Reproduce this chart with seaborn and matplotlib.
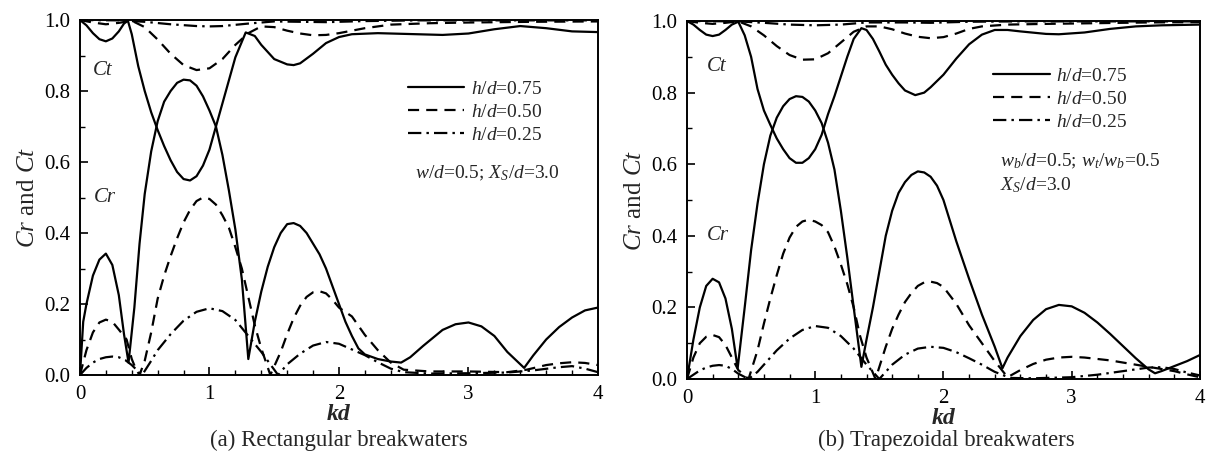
import matplotlib
matplotlib.use('Agg')
import matplotlib.pyplot as plt
import seaborn as sns
from matplotlib.lines import Line2D
from matplotlib.ticker import MultipleLocator

sns.set_style('ticks')
plt.rcParams['font.family'] = ['Liberation Serif', 'DejaVu Serif']
plt.rcParams['mathtext.fontset'] = 'custom'
plt.rcParams['mathtext.rm'] = 'Liberation Serif'
plt.rcParams['mathtext.it'] = 'Liberation Serif:italic'
plt.rcParams['mathtext.bf'] = 'Liberation Serif:bold'

# ---------------- (a) Rectangular breakwaters ----------------
a_cr75_kd = [0, 0.025, 0.05, 0.1, 0.15, 0.2, 0.25, 0.3, 0.34, 0.375, 0.42, 0.46, 0.5, 0.55, 0.6, 0.65, 0.7,
             0.75, 0.8, 0.85, 0.9, 0.95, 1.0, 1.05, 1.1, 1.15, 1.2, 1.25, 1.3, 1.35, 1.4, 1.45, 1.5, 1.55,
             1.6, 1.65, 1.7, 1.75, 1.8, 1.85, 1.9, 1.95, 2.0, 2.05, 2.1, 2.15, 2.2, 2.3, 2.4, 2.48, 2.55,
             2.65, 2.8, 2.9, 3.0, 3.1, 3.2, 3.3, 3.43, 3.5, 3.6, 3.7, 3.8, 3.9, 4.0]
a_cr75 = [0, 0.15, 0.2, 0.28, 0.325, 0.342, 0.31, 0.225, 0.115, 0.035, 0.19, 0.37, 0.51, 0.63, 0.715, 0.77,
          0.80, 0.823, 0.832, 0.83, 0.815, 0.785, 0.745, 0.70, 0.62, 0.52, 0.41, 0.27, 0.045, 0.15, 0.235,
          0.305, 0.36, 0.40, 0.425, 0.428, 0.42, 0.40, 0.37, 0.34, 0.30, 0.25, 0.20, 0.15, 0.11, 0.075,
          0.058, 0.045, 0.038, 0.035, 0.05, 0.082, 0.127, 0.143, 0.148, 0.137, 0.11, 0.065, 0.02, 0.055,
          0.10, 0.135, 0.162, 0.182, 0.19]

a_ct75_kd = [0, 0.05, 0.1, 0.15, 0.2, 0.25, 0.3, 0.34, 0.37, 0.4, 0.45, 0.5, 0.55, 0.6, 0.65, 0.7, 0.75,
             0.8, 0.85, 0.9, 0.95, 1.0, 1.05, 1.1, 1.15, 1.2, 1.28, 1.35, 1.4, 1.5, 1.6, 1.65, 1.7, 1.8,
             1.9, 2.0, 2.1, 2.3, 2.5, 2.8, 3.0, 3.2, 3.4, 3.6, 3.8, 4.0]
a_ct75 = [1.0, 0.985, 0.963, 0.946, 0.94, 0.948, 0.968, 0.99, 0.998, 0.96, 0.87, 0.8, 0.74, 0.69, 0.645,
          0.605, 0.572, 0.552, 0.548, 0.56, 0.59, 0.635, 0.70, 0.765, 0.83, 0.895, 0.965, 0.955, 0.93, 0.89,
          0.875, 0.873, 0.878, 0.905, 0.935, 0.952, 0.96, 0.963, 0.961, 0.958, 0.962, 0.974, 0.983, 0.977,
          0.968, 0.966]

a_cr50_kd = [0, 0.05, 0.1, 0.15, 0.2, 0.25, 0.3, 0.36, 0.4, 0.43, 0.46, 0.5, 0.55, 0.6, 0.65, 0.7, 0.75,
             0.8, 0.85, 0.9, 0.95, 1.0, 1.05, 1.1, 1.15, 1.2, 1.25, 1.3, 1.35, 1.4, 1.47, 1.55, 1.6, 1.65,
             1.7, 1.75, 1.8, 1.85, 1.9, 1.95, 2.0, 2.1, 2.2, 2.3, 2.4, 2.5, 2.7, 3.0, 3.3, 3.45, 3.6, 3.7,
             3.8, 3.9, 4.0]
a_cr50 = [0, 0.07, 0.12, 0.148, 0.156, 0.15, 0.128, 0.10, 0.045, 0.018, 0.0, 0.04, 0.12, 0.215, 0.28,
          0.335, 0.385, 0.43, 0.465, 0.49, 0.5, 0.496, 0.48, 0.45, 0.415, 0.36, 0.30, 0.22, 0.14, 0.075,
          0.0, 0.065, 0.115, 0.16, 0.195, 0.22, 0.233, 0.236, 0.23, 0.212, 0.19, 0.165, 0.113, 0.07, 0.035,
          0.015, 0.01, 0.01, 0.008, 0.015, 0.028, 0.033, 0.036, 0.034, 0.028]

a_ct50_kd = [0, 0.1, 0.2, 0.3, 0.4, 0.5, 0.6, 0.7, 0.8, 0.9, 1.0, 1.1, 1.2, 1.3, 1.4, 1.5, 1.6, 1.7, 1.8,
             1.9, 2.0, 2.2, 2.4, 2.7, 3.0, 3.5, 4.0]
a_ct50 = [1.0, 0.993, 0.988, 0.992, 0.998, 0.98, 0.945, 0.905, 0.873, 0.859, 0.864, 0.89, 0.93, 0.963,
          0.982, 0.98, 0.97, 0.962, 0.957, 0.958, 0.963, 0.977, 0.987, 0.991, 0.993, 0.995, 0.996]

a_cr25_kd = [0, 0.05, 0.1, 0.15, 0.2, 0.25, 0.3, 0.35, 0.4, 0.45, 0.48, 0.55, 0.6, 0.7, 0.8, 0.9, 1.0,
             1.1, 1.2, 1.3, 1.4, 1.45, 1.53, 1.6, 1.7, 1.8, 1.9, 2.0, 2.1, 2.2, 2.3, 2.4, 2.5, 2.7, 3.0,
             3.3, 3.5, 3.7, 3.8, 3.9, 4.0]
a_cr25 = [0, 0.02, 0.035, 0.045, 0.05, 0.052, 0.05, 0.042, 0.028, 0.01, 0.0, 0.04, 0.07, 0.115, 0.153,
          0.178, 0.188, 0.18, 0.155, 0.11, 0.065, 0.04, 0.0, 0.03, 0.06, 0.083, 0.093, 0.088, 0.072, 0.056,
          0.036, 0.018, 0.008, 0.004, 0.005, 0.007, 0.013, 0.022, 0.025, 0.018, 0.008]

a_ct25_kd = [0, 0.3, 0.5, 0.7, 0.9, 1.0, 1.1, 1.3, 1.5, 1.7, 1.9, 2.2, 2.6, 3.0, 4.0]
a_ct25 = [1.0, 0.999, 0.995, 0.988, 0.983, 0.982, 0.983, 0.99, 0.996, 0.995, 0.994, 0.997, 0.999, 0.999,
          0.999]

# ---------------- (b) Trapezoidal breakwaters ----------------
b_cr75_kd = [0, 0.05, 0.1, 0.15, 0.2, 0.25, 0.3, 0.35, 0.395, 0.45, 0.5, 0.55, 0.6, 0.65, 0.7, 0.75, 0.8,
             0.85, 0.9, 0.95, 1.0, 1.05, 1.1, 1.15, 1.2, 1.25, 1.3, 1.36, 1.4, 1.45, 1.5, 1.55, 1.6, 1.65,
             1.7, 1.75, 1.8, 1.85, 1.9, 1.95, 2.0, 2.1, 2.2, 2.3, 2.4, 2.46, 2.5, 2.6, 2.7, 2.8, 2.9, 3.0,
             3.1, 3.2, 3.3, 3.4, 3.5, 3.6, 3.65, 3.7, 3.8, 3.9, 4.0]
b_cr75 = [0, 0.11, 0.2, 0.26, 0.28, 0.27, 0.225, 0.14, 0.03, 0.2, 0.36, 0.49, 0.6, 0.68, 0.73, 0.762,
          0.782, 0.79, 0.788, 0.775, 0.75, 0.715, 0.66, 0.585, 0.47, 0.34, 0.2, 0.034, 0.11, 0.2, 0.3, 0.4,
          0.47, 0.52, 0.55, 0.57, 0.58, 0.577, 0.565, 0.54, 0.5, 0.385, 0.28, 0.18, 0.09, 0.03, 0.06, 0.12,
          0.165, 0.195, 0.207, 0.203, 0.185, 0.158, 0.126, 0.092, 0.058, 0.027, 0.016, 0.022, 0.036, 0.05,
          0.067]

b_ct75_kd = [0, 0.05, 0.1, 0.15, 0.2, 0.25, 0.3, 0.35, 0.4, 0.45, 0.5, 0.55, 0.6, 0.65, 0.7, 0.75, 0.8,
             0.85, 0.9, 0.95, 1.0, 1.05, 1.1, 1.15, 1.2, 1.25, 1.3, 1.36, 1.4, 1.45, 1.5, 1.55, 1.6, 1.65,
             1.7, 1.78, 1.85, 1.9, 2.0, 2.1, 2.2, 2.3, 2.4, 2.5, 2.6, 2.8, 2.9, 3.1, 3.3, 3.5, 3.7, 4.0]
b_ct75 = [1.0, 0.99, 0.975, 0.962, 0.958, 0.962, 0.975, 0.99, 0.998, 0.96, 0.9, 0.81, 0.75, 0.71, 0.672,
          0.642, 0.617, 0.604, 0.604, 0.617, 0.642, 0.682, 0.74, 0.79, 0.845, 0.9, 0.95, 0.98, 0.975, 0.95,
          0.915, 0.878, 0.85, 0.826, 0.806, 0.793, 0.8, 0.815, 0.85, 0.895, 0.935, 0.962, 0.975, 0.975,
          0.971, 0.964, 0.963, 0.968, 0.978, 0.985, 0.988, 0.99]

b_cr50_kd = [0, 0.05, 0.1, 0.15, 0.2, 0.25, 0.3, 0.35, 0.4, 0.48, 0.55, 0.6, 0.65, 0.7, 0.75, 0.8, 0.85,
             0.9, 0.95, 1.0, 1.05, 1.1, 1.15, 1.2, 1.25, 1.3, 1.35, 1.4, 1.47, 1.55, 1.6, 1.65, 1.7, 1.75,
             1.8, 1.85, 1.9, 1.95, 2.0, 2.1, 2.2, 2.3, 2.4, 2.5, 2.6, 2.7, 2.8, 2.9, 3.0, 3.1, 3.3, 3.5,
             3.7, 3.8, 3.9, 4.0]
b_cr50 = [0, 0.06, 0.1, 0.118, 0.123, 0.117, 0.095, 0.06, 0.025, 0.0, 0.08, 0.155, 0.225, 0.29, 0.35,
          0.395, 0.425, 0.44, 0.445, 0.44, 0.43, 0.41, 0.37, 0.32, 0.265, 0.2, 0.12, 0.06, 0.0, 0.09, 0.14,
          0.18, 0.215, 0.24, 0.26, 0.27, 0.272, 0.268, 0.257, 0.21, 0.15, 0.1, 0.05, 0.005, 0.025, 0.042,
          0.054, 0.06, 0.062, 0.06, 0.052, 0.04, 0.028, 0.022, 0.013, 0.005]

b_ct50_kd = [0, 0.1, 0.2, 0.3, 0.4, 0.5, 0.6, 0.7, 0.8, 0.9, 1.0, 1.1, 1.2, 1.3, 1.4, 1.5, 1.6, 1.7, 1.8,
             1.9, 2.0, 2.1, 2.2, 2.3, 2.5, 2.8, 3.2, 3.6, 4.0]
b_ct50 = [1.0, 0.995, 0.992, 0.995, 0.999, 0.985, 0.96, 0.93, 0.905, 0.892, 0.893, 0.91, 0.94, 0.97, 0.985,
          0.985, 0.977, 0.965, 0.956, 0.952, 0.955, 0.965, 0.978, 0.985, 0.99, 0.992, 0.994, 0.996, 0.997]

b_cr25_kd = [0, 0.05, 0.1, 0.15, 0.2, 0.25, 0.3, 0.35, 0.4, 0.48, 0.55, 0.6, 0.7, 0.8, 0.9, 1.0, 1.1, 1.2,
             1.3, 1.4, 1.5, 1.6, 1.7, 1.8, 1.9, 2.0, 2.1, 2.2, 2.3, 2.4, 2.52, 2.7, 3.0, 3.2, 3.4, 3.6, 3.7,
             3.8, 3.9, 4.0]
b_cr25 = [0, 0.012, 0.024, 0.032, 0.037, 0.039, 0.037, 0.028, 0.015, 0.0, 0.02, 0.04, 0.08, 0.113, 0.137,
          0.148, 0.143, 0.12, 0.085, 0.04, 0.0, 0.04, 0.068, 0.085, 0.09, 0.087, 0.075, 0.058, 0.04, 0.02,
          0.003, 0.002, 0.005, 0.012, 0.022, 0.032, 0.033, 0.028, 0.018, 0.01]

b_ct25_kd = [0, 0.4, 0.6, 0.8, 1.0, 1.2, 1.4, 1.7, 1.9, 2.2, 2.6, 4.0]
b_ct25 = [1.0, 0.999, 0.995, 0.99, 0.988, 0.99, 0.996, 0.996, 0.995, 0.998, 0.999, 0.999]

legend_labels = ['$h/d$=0.75', '$h/d$=0.50', '$h/d$=0.25']
x_ticks = [0, 1, 2, 3, 4]
y_ticks = [0.0, 0.2, 0.4, 0.6, 0.8, 1.0]

LS = {'0.75': '-', '0.50': (0, (5.0, 3.2)), '0.25': (0, (6.0, 2.3, 1.1, 2.3))}
LW = 1.6

fig = plt.figure(figsize=(12.08, 4.55), dpi=100)
axA = fig.add_axes([0.0662, 0.1758, 0.4288, 0.7802])
axB = fig.add_axes([0.5687, 0.1670, 0.4246, 0.7868])

def draw(ax, series):
    for kd, val, key in series:
        sns.lineplot(x=kd, y=val, ax=ax, color='black', linewidth=LW, linestyle=LS[key],
                     estimator=None, sort=False)

draw(axA, [(a_cr75_kd, a_cr75, '0.75'), (a_ct75_kd, a_ct75, '0.75'),
           (a_cr50_kd, a_cr50, '0.50'), (a_ct50_kd, a_ct50, '0.50'),
           (a_cr25_kd, a_cr25, '0.25'), (a_ct25_kd, a_ct25, '0.25')])
draw(axB, [(b_cr75_kd, b_cr75, '0.75'), (b_ct75_kd, b_ct75, '0.75'),
           (b_cr50_kd, b_cr50, '0.50'), (b_ct50_kd, b_ct50, '0.50'),
           (b_cr25_kd, b_cr25, '0.25'), (b_ct25_kd, b_ct25, '0.25')])

for ax in (axA, axB):
    ax.set_xlim(0, 4)
    ax.set_ylim(0, 1)
    ax.set_xticks(x_ticks)
    ax.set_xticklabels([str(t) for t in x_ticks])
    ax.set_yticks(y_ticks)
    ax.set_yticklabels(['%.1f' % t for t in y_ticks])
    ax.xaxis.set_minor_locator(MultipleLocator(0.2))
    ax.yaxis.set_minor_locator(MultipleLocator(0.1))
    ax.tick_params(which='both', direction='in', top=False, right=False, color='black')
    ax.tick_params(which='major', length=6, width=1.2, labelsize=15, pad=7, labelcolor='black')
    ax.tick_params(which='minor', length=3.5, width=1.0)
    for s in ax.spines.values():
        s.set_visible(True)
        s.set_linewidth(1.4)
        s.set_color('black')
    ax.set_ylabel('$Cr$ and $Ct$', fontsize=18, labelpad=4)
    ax.set_xlabel('kd', fontsize=17, fontstyle='italic', fontweight='bold', labelpad=0)
    handles = [Line2D([], [], color='black', lw=LW, linestyle=LS[k]) for k in ('0.75', '0.50', '0.25')]
    ax.legend(handles, legend_labels, frameon=False, fontsize=14, handlelength=2.9,
              handletextpad=0.35, labelspacing=0.28, borderpad=0, borderaxespad=0,
              loc='upper left',
              bbox_to_anchor=(0.633, 0.83) if ax is axA else (0.597, 0.87))

axA.text(0.044, 0.859, 'Ct', transform=axA.transAxes, fontsize=15, style='italic', ha='center', va='center')
axA.text(0.048, 0.499, 'Cr', transform=axA.transAxes, fontsize=15, style='italic', ha='center', va='center')
axB.text(0.058, 0.874, 'Ct', transform=axB.transAxes, fontsize=15, style='italic', ha='center', va='center')
axB.text(0.060, 0.402, 'Cr', transform=axB.transAxes, fontsize=15, style='italic', ha='center', va='center')

axA.text(0.647, 0.569, '$w/d$=0.5; $X_S/d$=3.0', transform=axA.transAxes, fontsize=14, ha='left', va='center')
axB.text(0.61, 0.607, '$w_b/d$=0.5; $w_t/w_b$=0.5', transform=axB.transAxes, fontsize=14, ha='left', va='center')
axB.text(0.61, 0.542, '$X_S/d$=3.0', transform=axB.transAxes, fontsize=14, ha='left', va='center')

fig.text(0.0662 + 0.4288 / 2, 0.033, '(a) Rectangular breakwaters', fontsize=16.5, ha='center', va='center')
fig.text(0.5687 + 0.4296 / 2, 0.033, '(b) Trapezoidal breakwaters', fontsize=16.5, ha='center', va='center')

fig.savefig('out.png', dpi=100, facecolor='white')
